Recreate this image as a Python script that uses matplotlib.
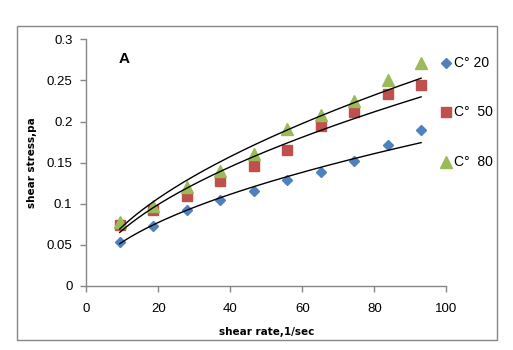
import numpy as np
import matplotlib
matplotlib.use("Agg")
import matplotlib.pyplot as plt
from matplotlib.patches import Rectangle
from matplotlib.lines import Line2D

shear_rate = [9.3, 18.6, 27.9, 37.2, 46.5, 55.8, 65.1, 74.4, 83.7, 93.0]
stress_20 = [0.054, 0.073, 0.092, 0.105, 0.116, 0.129, 0.139, 0.152, 0.171, 0.190]
stress_50 = [0.074, 0.092, 0.109, 0.128, 0.146, 0.165, 0.195, 0.212, 0.234, 0.245]
stress_80 = [0.078, 0.097, 0.120, 0.140, 0.161, 0.191, 0.208, 0.225, 0.251, 0.271]
labels = ["C\u00b0 20", "C\u00b0  50", "C\u00b0  80"]
colors = ["#4F81BD", "#C0504D", "#9BBB59"]
markers = ["D", "s", "^"]
msizes = [5.5, 7.5, 8]

plt.rcParams['font.family'] = ['Liberation Sans', 'DejaVu Sans']

W, H = 513, 350
fig = plt.figure(figsize=(W / 100, H / 100), dpi=100)
ax = fig.add_axes([86.3 / W, (H - 286) / H, (446.3 - 86.3) / W, (286 - 39.3) / H])

x = np.array(shear_rate)
for ys, c, m, ms in zip([stress_20, stress_50, stress_80], colors, markers, msizes):
    ax.plot(x, ys, linestyle='none', marker=m, color=c, markersize=ms, zorder=3, clip_on=False)
for ys in [stress_20, stress_50, stress_80]:
    b, loga = np.polyfit(np.log(x), np.log(ys), 1)
    xf = np.linspace(x.min(), x.max(), 200)
    ax.plot(xf, np.exp(loga) * xf ** b, color='black', lw=1.0, zorder=4)

ax.set_xlim(0, 100)
ax.set_ylim(0, 0.3)
ax.set_xticks([0, 20, 40, 60, 80, 100])
ax.set_xticklabels(["0", "20", "40", "60", "80", "100"])
ax.set_yticks([0, 0.05, 0.1, 0.15, 0.2, 0.25, 0.3])
ax.set_yticklabels(["0", "0.05", "0.1", "0.15", "0.2", "0.25", "0.3"])
for s in ['top', 'right']:
    ax.spines[s].set_visible(False)
for s in ['left', 'bottom']:
    ax.spines[s].set_color('#868686')
    ax.spines[s].set_linewidth(1.0)
ax.tick_params(axis='both', direction='out', length=4, width=1, color='#868686', labelsize=9.5)
ax.tick_params(axis='x', pad=8)
ax.tick_params(axis='y', pad=6)

ax.set_xlabel("shear rate,1/sec", fontsize=7.5, fontweight='bold', family='DejaVu Sans', labelpad=9)
ax.set_ylabel("shear stress,pa", fontsize=7.5, fontweight='bold', family='DejaVu Sans', labelpad=7)

fig.text(119 / W, 1 - 59 / H, "A", fontsize=11, fontweight='bold', va='center', ha='left')

# legend
leg_y = [63.3, 111.7, 161.7]
for yy, lab, c, m, ms in zip(leg_y, labels, colors, markers, msizes):
    fig.add_artist(Line2D([445.7 / W], [1 - yy / H], marker=m, color=c, markersize=ms,
                          linestyle='none', transform=fig.transFigure))
    fig.text(453.5 / W, 1 - yy / H, lab, fontsize=10, va='center', ha='left')

fig.add_artist(Rectangle((16.5 / W, 1 - 340 / H), (497 - 16.5) / W, (340 - 26) / H,
                         transform=fig.transFigure, fill=False, edgecolor='#868686', lw=1.0))

fig.savefig("out.png", dpi=100)
